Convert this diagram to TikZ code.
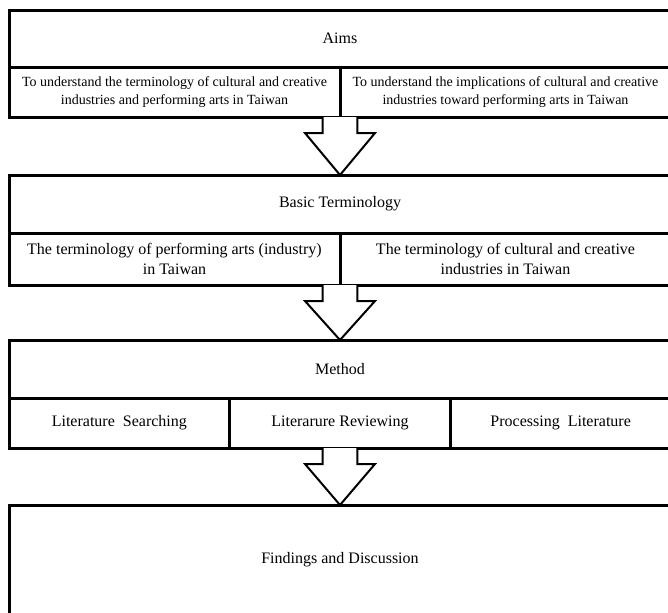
\documentclass[tikz,border=0pt]{standalone}
\usepackage{fontspec}
\setmainfont{Liberation Serif}
\usepackage{tikz}
\usetikzlibrary{positioning,calc}
\tikzstyle{titlebox} = [rectangle, draw=black, line width=2.25pt, outer sep=0pt, inner sep=0pt, minimum width=496.5pt, minimum height=43.5pt, text centered, font=\fontsize{12pt}{15pt}\selectfont]
\tikzstyle{rowbox} = [rectangle, draw=black, line width=2.25pt, outer sep=0pt, inner sep=0pt, minimum width=248.25pt, minimum height=39pt, align=center, font=\fontsize{12pt}{15pt}\selectfont]
\tikzstyle{blockarrow} = [line width=1.5pt, black, fill=white]

\begin{document}
\begin{tikzpicture}
\useasboundingbox (0,0) rectangle (501pt,-459pt);

% Aims
\node (aims) [titlebox, minimum height=42.75pt, anchor=north west] at (6.75pt,-7.5pt) {Aims};
\node (aimsl) [rowbox, minimum height=37.5pt, anchor=north west, font=\fontsize{10.5pt}{13.5pt}\selectfont] at (aims.south west) {To understand the terminology of cultural and creative\\industries and performing arts in Taiwan};
\node (aimsr) [rowbox, minimum height=37.5pt, anchor=north west, font=\fontsize{10.5pt}{13.5pt}\selectfont] at (aimsl.north east) {To understand the implications of cultural and creative\\industries toward performing arts in Taiwan};

% Basic terminology
\node (basic) [titlebox, below=43.5pt of aimsl.south east] {Basic Terminology};
\node (basicl) [rowbox, anchor=north west] at (basic.south west) {The terminology of performing arts (industry)\\in Taiwan};
\node (basicr) [rowbox, anchor=north west] at (basicl.north east) {The terminology of cultural and creative\\industries in Taiwan};

% Method
\node (method) [titlebox, below=41.25pt of basicl.south east] {Method};
\node (methodl) [rowbox, minimum width=165.5pt, minimum height=37.5pt, anchor=north west] at (method.south west) {Literature\ \ Searching};
\node (methodc) [rowbox, minimum width=165.5pt, minimum height=37.5pt, anchor=north west] at (methodl.north east) {Literarure Reviewing};
\node (methodr) [rowbox, minimum width=165.5pt, minimum height=37.5pt, anchor=north west] at (methodc.north east) {Processing\ \ Literature};

% Findings
\node (findings) [titlebox, minimum height=82.5pt, below=42.75pt of methodc.south] {Findings and Discussion};

% Arrows
\draw[blockarrow] ($(aimsl.south east)+(-13pt,0)$) -- ++(0,-12pt) -- ++(-13.25pt,0) -- (basic.north) -- ($(aimsl.south east)+(26.25pt,-12pt)$) -- ++(-13.25pt,0) -- ++(0,12pt);
\draw[blockarrow] ($(basicl.south east)+(-13pt,0)$) -- ++(0,-12pt) -- ++(-13.25pt,0) -- (method.north) -- ($(basicl.south east)+(26.25pt,-12pt)$) -- ++(-13.25pt,0) -- ++(0,12pt);
\draw[blockarrow] ($(methodc.south)+(-13pt,0)$) -- ++(0,-12pt) -- ++(-13.25pt,0) -- (findings.north) -- ($(methodc.south)+(26.25pt,-12pt)$) -- ++(-13.25pt,0) -- ++(0,12pt);
\end{tikzpicture}
\end{document}
